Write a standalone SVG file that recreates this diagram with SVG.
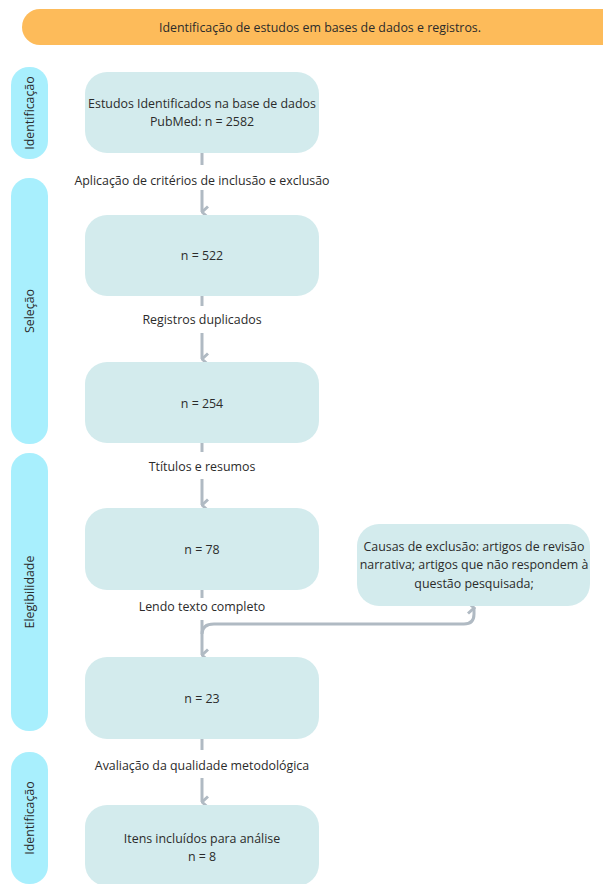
<svg xmlns="http://www.w3.org/2000/svg" width="603" height="884" viewBox="0 0 603 884">
<style>
text{font-family:"Open Sans","Noto Sans","Liberation Sans",sans-serif;font-size:12.4px;fill:#2b2b2b;text-anchor:middle;dominant-baseline:central}
.box{fill:#D3EBED}
.pill{fill:#A8EFFD}
.ban{fill:#FDBB5A}
.ln{fill:none;stroke:#B0BAC3;stroke-width:3}
</style>
<defs>
<marker id="ah" viewBox="0 0 14 9" refX="7" refY="7.5" markerWidth="14" markerHeight="9" markerUnits="userSpaceOnUse" orient="auto-start-reverse">
<path d="M1.5,1.5 L7,7.5 L12.5,1.5" fill="none" stroke="#B0BAC3" stroke-width="3"/>
</marker>
</defs>
<rect width="603" height="884" fill="#fff"/>
<g id="banner"><rect class="ban" x="22" y="9" width="600" height="36" rx="18"/><text x="320" y="27">Identificação de estudos em bases de dados e registros.</text></g>
<g id="lane1"><rect class="pill" x="11" y="67" width="37" height="92" rx="18"/><text transform="translate(29.5 113) rotate(-90)">Identificação</text></g>
<g id="lane2"><rect class="pill" x="11" y="178" width="37" height="266" rx="18"/><text transform="translate(29.5 311) rotate(-90)">Seleção</text></g>
<g id="lane3"><rect class="pill" x="11" y="453" width="37" height="278" rx="18"/><text transform="translate(29.5 592) rotate(-90)">Elegibilidade</text></g>
<g id="lane4"><rect class="pill" x="11" y="752" width="37" height="132" rx="18"/><text transform="translate(29.5 818) rotate(-90)">Identificação</text></g>
<g id="connectors">
<path class="ln" d="M202,153 V165 M202,190 V212" marker-end="url(#ah)"/>
<path class="ln" d="M202,296 V306"/><path class="ln" d="M202,333 V359" marker-end="url(#ah)"/>
<path class="ln" d="M202,443 V452"/><path class="ln" d="M202,479 V505" marker-end="url(#ah)"/>
<path class="ln" d="M202,590 V598"/><path class="ln" d="M202,620 V655" marker-end="url(#ah)"/>
<path class="ln" d="M202,634 Q202,624 214,624 H464 Q474,624 474,614 V608" marker-end="url(#ah)"/>
<path class="ln" d="M202,739 V750"/><path class="ln" d="M202,778 V802" marker-end="url(#ah)"/>
<text x="202" y="180">Aplicação de critérios de inclusão e exclusão</text>
<text x="202" y="319">Registros duplicados</text>
<text x="202" y="466">Ttítulos e resumos</text>
<text x="202" y="606">Lendo texto completo</text>
<text x="202" y="765">Avaliação da qualidade metodológica</text>
</g>
<g id="n1"><rect class="box" x="85" y="72" width="234" height="81" rx="22"/><text x="202" y="103">Estudos Identificados na base de dados</text><text x="202" y="121">PubMed: n = 2582</text></g>
<g id="n2"><rect class="box" x="85" y="215" width="234" height="81" rx="22"/><text x="202" y="255">n = 522</text></g>
<g id="n3"><rect class="box" x="85" y="362" width="234" height="81" rx="22"/><text x="202" y="403">n = 254</text></g>
<g id="n4"><rect class="box" x="85" y="508" width="234" height="82" rx="22"/><text x="202" y="549">n = 78</text></g>
<g id="n5"><rect class="box" x="85" y="657" width="234" height="82" rx="22"/><text x="202" y="698">n = 23</text></g>
<g id="n6"><rect class="box" x="85" y="805" width="234" height="81" rx="22"/><text x="202" y="838">Itens incluídos para análise</text><text x="202" y="856">n = 8</text></g>
<g id="n7"><rect class="box" x="357" y="524" width="233" height="82" rx="22"/><text x="474" y="546">Causas de exclusão: artigos de revisão</text><text x="474" y="564">narrativa; artigos que não respondem à</text><text x="474" y="583">questão pesquisada;</text></g>
</svg>
